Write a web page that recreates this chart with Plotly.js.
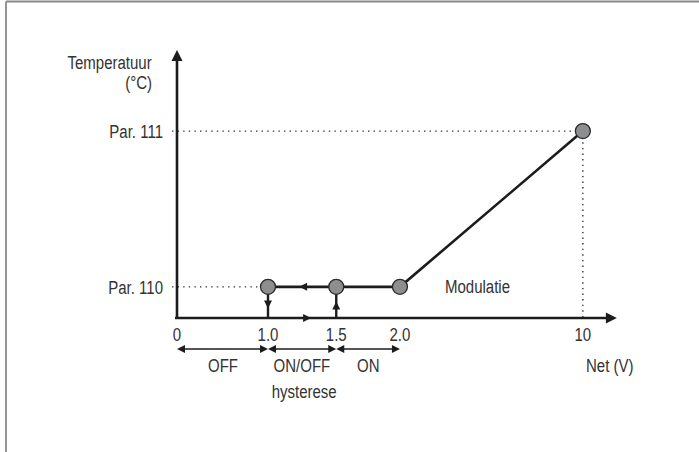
<!DOCTYPE html>
<html><head><meta charset="utf-8">
<script src="https://cdn.plot.ly/plotly-3.0.1.min.js"></script>
<style>html,body{margin:0;padding:0;background:#fff}</style>
</head><body><div id="chart" style="width:699px;height:452px"></div>
<script>
// ---- data ----
const voltTicks = [0, 1.0, 1.5, 2.0, 10];
const voltTickLabels = ['0', '1.0', '1.5', '2.0', '10'];
const tempLevels = [1, 6];               // schematic levels: Par. 110, Par. 111
const tempLabels = ['Par. 110', 'Par. 111'];
const curveVolt = [1.0, 1.5, 2.0, 10];
const curveTemp = [1, 1, 1, 6];
const zoneBounds = [0, 1.0, 1.5, 2.0];
const zoneLabels = ['OFF', 'ON/OFF', 'ON'];

// ---- schematic (non-linear) voltage scale ----
const voltAxisPos = [0, 1, 1.75, 2.45, 4.46];
function xs(v) {
  for (let i = 0; i < voltTicks.length - 1; i++) {
    const a = voltTicks[i], b = voltTicks[i + 1];
    if (v <= b) return voltAxisPos[i] + (v - a) / (b - a) * (voltAxisPos[i + 1] - voltAxisPos[i]);
  }
  return voltAxisPos[voltAxisPos.length - 1];
}
const PXX = 91, PXY = 31.15;            // px per schematic unit
const X0 = 177, Y0 = 318, W = 699, H = 452;
const xRange = [-X0 / PXX, (W - X0) / PXX];
const yRange = [-(H - Y0) / PXY, Y0 / PXY];
const dx = p => p / PXX, dy = p => p / PXY;

const INK = '#1c1c1c', TXT = '#333333', DOT = '#333333';
const FONT = 'Liberation Sans, Arial, sans-serif';
const FS = 19;
const CONDENSE = 0.79;

const xTip = xs(10) + dx(34), yTip = tempLevels[1] + dy(81);
const lvl110 = tempLevels[0], lvl111 = tempLevels[1];
const x10 = xs(1.0), x15 = xs(1.5), x20 = xs(2.0), xMax = xs(10);
const rowY = -dy(31);

const traces = [];
const line = (x, y, w, color, dash) => traces.push({x, y, mode: 'lines', line: {color, width: w, dash: dash || 'solid'}, hoverinfo: 'skip', showlegend: false});
const arrow = (x, y, sym, size) => traces.push({x: [x], y: [y], mode: 'markers', marker: {symbol: sym, size, color: INK, line: {width: 0}}, hoverinfo: 'skip', showlegend: false});

// dotted guide lines
const DOTDASH = '1.4px,4.2px';
line([-dx(5), x10], [lvl110, lvl110], 1.4, DOT, DOTDASH);
line([-dx(5), xMax], [lvl111, lvl111], 1.4, DOT, DOTDASH);
line([xMax, xMax], [lvl111, 0], 1.4, DOT, DOTDASH);

// axes
line([-dx(2), xTip - dx(6)], [0, 0], 2.6, INK);
line([0, 0], [0, yTip - dy(6)], 2.6, INK);
arrow(xTip, 0, 'arrow-right', 11);
arrow(0, yTip, 'arrow-up', 11);

// hysteresis verticals
line([x10, x10], [lvl110, 0], 2.4, INK);
line([x15, x15], [0, lvl110], 2.4, INK);
arrow(x10, lvl110 / 2 - dy(6), 'arrow-down', 8);
arrow(x15, lvl110 / 2 + dy(1), 'arrow-up', 8);
arrow((x10 + x15) / 2 - dx(3), lvl110, 'arrow-left', 8);
arrow((x10 + x15) / 2 + dx(9), 0, 'arrow-right', 8);

// zone double arrows
for (let i = 0; i < zoneLabels.length; i++) {
  const a = xs(zoneBounds[i]), b = xs(zoneBounds[i + 1]);
  line([a + dx(3), b - dx(3)], [rowY, rowY], 1.6, INK);
  arrow(a, rowY, 'arrow-left', 8);
  arrow(b, rowY, 'arrow-right', 8);
}

// main curve
traces.push({
  x: curveVolt.map(xs), y: curveTemp, mode: 'lines+markers',
  line: {color: INK, width: 2.6},
  marker: {size: 15, color: '#8d8e90', line: {color: '#2a2a2a', width: 1.3}},
  hoverinfo: 'skip', showlegend: false
});

const ann = (x, y, text, xanchor) => ({x, y, xref: 'x', yref: 'y', text, showarrow: false,
  xanchor: xanchor || 'center', align: xanchor || 'center', yanchor: 'middle',
  font: {family: FONT, size: FS, color: TXT}});
const annotations = [
  ann(-dx(23), lvl111 + dy(69), 'Temperatuur', 'right'),
  ann(-dx(23), lvl111 + dy(49), '(°C)', 'right'),
  ann(x20 + dx(43), lvl110, 'Modulatie', 'left'),
  ann(xMax + dx(1), -dy(47), 'Net (V)', 'left'),
  ann((x10 + x15) / 2 + dx(2), -dy(73), 'hysterese')
];
for (let i = 0; i < zoneLabels.length; i++) {
  annotations.push(ann((xs(zoneBounds[i]) + xs(zoneBounds[i + 1])) / 2, -dy(47), zoneLabels[i]));
}

const layout = {
  width: W, height: H,
  margin: {l: 0, r: 0, t: 0, b: 0},
  paper_bgcolor: '#fff', plot_bgcolor: '#fff',
  xaxis: {
    range: xRange, showgrid: false, zeroline: false, showline: false,
    tickvals: voltTicks.map(xs), ticktext: voltTickLabels, ticks: '',
    anchor: 'free', position: (0 - yRange[0]) / (yRange[1] - yRange[0]),
    ticklabelstandoff: 3,
    tickfont: {family: FONT, size: FS, color: TXT}, fixedrange: true
  },
  yaxis: {
    range: yRange, showgrid: false, zeroline: false, showline: false,
    tickvals: tempLevels, ticktext: tempLabels, ticks: '',
    anchor: 'free', position: (0 - xRange[0]) / (xRange[1] - xRange[0]),
    ticklabelstandoff: 14,
    tickfont: {family: FONT, size: FS, color: TXT}, fixedrange: true
  },
  annotations,
  shapes: [
    {type: 'line', xref: 'paper', yref: 'paper', x0: 6 / W, x1: 1, y0: 1 - 1.5 / H, y1: 1 - 1.5 / H, line: {color: '#8a8a8a', width: 1.8}},
    {type: 'line', xref: 'paper', yref: 'paper', x0: 6 / W, x1: 6 / W, y0: 0, y1: 1 - 1.5 / H, line: {color: '#8a8a8a', width: 1.8}}
  ]
};

Plotly.newPlot('chart', traces, layout, {staticPlot: true, displayModeBar: false}).then(gd => {
  // narrow the lettering about each text's own anchor (reference uses a condensed face)
  gd.querySelectorAll('g.annotation text, g.xtick text, g.ytick text').forEach(t => {
    const x = parseFloat(t.getAttribute('x')) || 0;
    const y = parseFloat(t.getAttribute('y')) || 0;
    const tr = t.getAttribute('transform') || '';
    t.setAttribute('transform', `${tr} translate(${x},${y}) scale(${CONDENSE},1) translate(${-x},${-y})`);
  });
});
</script>
</body></html>
